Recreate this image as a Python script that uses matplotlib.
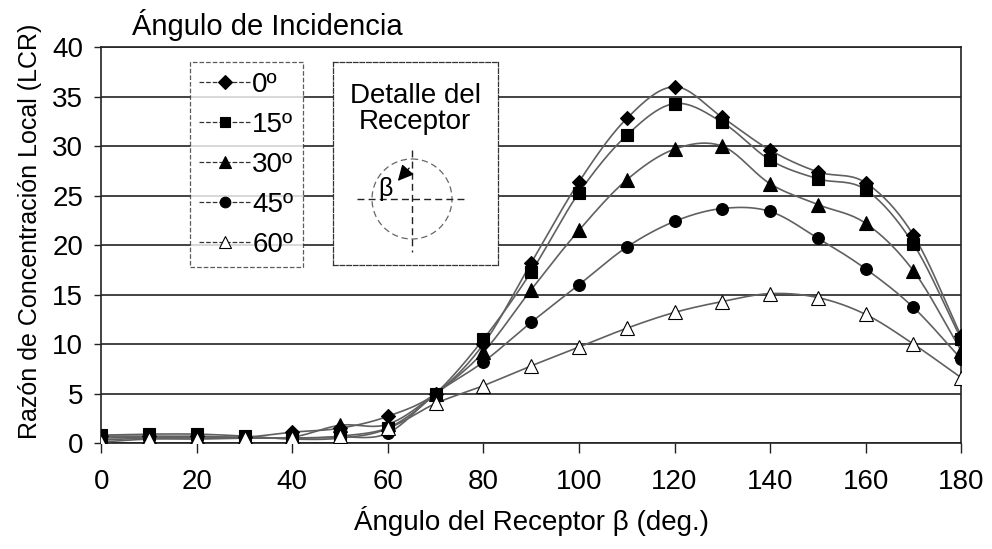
import numpy as np
import matplotlib
matplotlib.use('Agg')
import matplotlib.pyplot as plt
from matplotlib.lines import Line2D
from matplotlib.patches import Circle

plt.rcParams['font.family'] = ['Liberation Sans', 'DejaVu Sans']

# receiver angle (deg) and LCR for each incidence angle
beta = [0, 10, 20, 30, 40, 50, 60, 70, 80, 90, 100, 110, 120, 130, 140, 150, 160, 170, 180]
lcr_0 = [0.7, 0.7, 0.7, 0.6, 1.1, 1.5, 2.7, 5.0, 10.0, 18.2, 26.4, 32.8, 36.0, 32.9, 29.6, 27.4, 26.3, 21.0, 10.8]
lcr_15 = [0.8, 0.9, 0.9, 0.7, 0.4, 0.5, 1.5, 5.0, 10.5, 17.3, 25.3, 31.1, 34.3, 32.4, 28.6, 26.7, 25.6, 20.1, 10.5]
lcr_30 = [0.5, 0.6, 0.6, 0.6, 0.6, 1.8, 1.9, 5.0, 9.2, 15.5, 21.5, 26.6, 29.7, 30.0, 26.2, 24.1, 22.2, 17.4, 9.3]
lcr_45 = [0.3, 0.5, 0.5, 0.5, 0.5, 0.6, 1.0, 5.0, 8.2, 12.2, 16.0, 19.8, 22.4, 23.7, 23.4, 20.7, 17.6, 13.7, 8.5]
lcr_60 = [0.1, 0.4, 0.4, 0.5, 0.5, 0.7, 1.5, 4.0, 5.8, 7.8, 9.7, 11.6, 13.2, 14.3, 15.1, 14.7, 13.0, 10.0, 6.6]
labels = ['0º', '15º', '30º', '45º', '60º']

series = [lcr_0, lcr_15, lcr_30, lcr_45, lcr_60]
markers = ['D', 's', '^', 'o', '^']
msizes = [7.5, 8.5, 10, 8.5, 10]
faces = ['black', 'black', 'black', 'black', 'white']


def smooth(x, y, n=20):
    # catmull-rom curve through the points, like Excel's smoothed line
    x = np.asarray(x, float)
    y = np.asarray(y, float)
    px = np.concatenate([[2 * x[0] - x[1]], x, [2 * x[-1] - x[-2]]])
    py = np.concatenate([[2 * y[0] - y[1]], y, [2 * y[-1] - y[-2]]])
    t = np.linspace(0, 1, n, endpoint=False)
    xs, ys = [], []
    for i in range(1, len(px) - 2):
        for p, out in ((px, xs), (py, ys)):
            p0, p1, p2, p3 = p[i - 1], p[i], p[i + 1], p[i + 2]
            out.extend(0.5 * (2 * p1 + (-p0 + p2) * t + (2 * p0 - 5 * p1 + 4 * p2 - p3) * t ** 2
                              + (-p0 + 3 * p1 - 3 * p2 + p3) * t ** 3))
    xs.append(x[-1])
    ys.append(y[-1])
    return xs, ys


fig = plt.figure(figsize=(9.92, 5.49), dpi=100)
ax = fig.add_axes([0.102, 0.193, 0.867, 0.721])

for s in series:
    xs, ys = smooth(beta, s)
    ax.plot(xs, ys, color='#606060', lw=1.2, zorder=3)
for s, m, ms, fc in zip(series, markers, msizes, faces):
    ax.plot(beta, s, ls='none', marker=m, ms=ms, mfc=fc, mec='black', mew=0.8, zorder=4)

ax.set_xlim(0, 180)
ax.set_ylim(0, 40)
ax.set_xticks(range(0, 181, 20))
ax.set_yticks(range(0, 41, 5))
ax.yaxis.grid(True, color='#222222', lw=1.2)
ax.set_axisbelow(True)
for sp in ax.spines.values():
    sp.set_color('#222222')
    sp.set_linewidth(1.2)
ax.tick_params(labelsize=20, color='#222222', width=1)
ax.tick_params(axis='x', length=7, pad=12)
ax.tick_params(axis='y', length=5, pad=8)
ax.set_xlabel('Ángulo del Receptor β (deg.)', fontsize=20)
ax.set_ylabel('Razón de Concentración Local (LCR)', fontsize=18)
ax.xaxis.set_label_coords(0.5, -0.16)
ax.yaxis.set_label_coords(-0.069, 0.535)
fig.text(0.133, 0.954, 'Ángulo de Incidencia', fontsize=21, va='center')

handles = [Line2D([], [], color='#333333', ls='--', lw=0.9, marker=m, ms=ms * 0.9,
                  mfc=fc, mec='black', mew=0.8)
           for m, ms, fc in zip(markers, msizes, faces)]
leg = ax.legend(handles, labels, loc='upper left', bbox_to_anchor=(0.103, 0.962),
                fontsize=20, frameon=True, fancybox=False, handlelength=1.85,
                handletextpad=0.05, labelspacing=0.5, borderpad=0.35, borderaxespad=0,
                edgecolor='#333333')
leg.get_frame().set_linestyle('--')
leg.get_frame().set_linewidth(0.9)
leg.set_zorder(6)

# receiver detail box
ins = fig.add_axes([333 / 992, 1 - 265 / 549, 165 / 992, 203 / 549])
ins.set_xlim(0, 165)
ins.set_ylim(203, 0)
ins.set_xticks([])
ins.set_yticks([])
ins.set_zorder(6)
for sp in ins.spines.values():
    sp.set_linestyle('--')
    sp.set_linewidth(0.9)
    sp.set_color('#333333')
ins.text(82, 47, 'Detalle del\nReceptor', fontsize=20, ha='center', va='center', linespacing=1.0)
ins.add_patch(Circle((79, 137), 40, fill=False, ls=(0, (5, 3)), lw=0.9, ec='#666666'))
ins.plot([24, 131], [137, 137], ls=(0, (5, 3)), lw=1.0, color='#222222')
ins.plot([79, 79], [88, 190], ls=(0, (5, 3)), lw=1.0, color='#222222')
ins.annotate('', xy=(63, 121), xytext=(78, 104),
             arrowprops=dict(arrowstyle='-|>', color='black', lw=0.9, mutation_scale=24))
ins.text(52, 127, 'β', fontsize=18, ha='center', va='center')

fig.savefig('out.png', dpi=100)
